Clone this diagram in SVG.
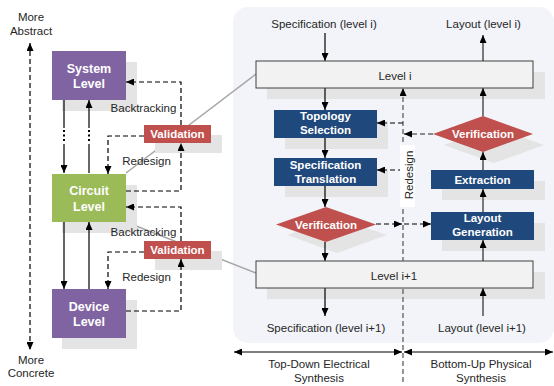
<svg xmlns="http://www.w3.org/2000/svg" width="554" height="386" viewBox="0 0 554 386">
<defs>
<marker id="ah" viewBox="0 0 8 7" refX="8" refY="3.5" markerWidth="8" markerHeight="7" markerUnits="userSpaceOnUse" orient="auto-start-reverse"><path d="M0,0 L8,3.5 L0,7 z" fill="#000"/></marker>
<style>
.t{font-family:"Liberation Sans",Arial,sans-serif;fill:#262626;font-size:11.5px;text-anchor:middle}
.w{font-family:"Liberation Sans",Arial,sans-serif;fill:#fff;font-weight:bold;text-anchor:middle}
.sh{fill:#e4e4e4}
.pu{fill:#8064A2}
.gr{fill:#9BBB59}
.rd{fill:#C0504D}
.nv{fill:#1F497D}
.lv{fill:#f2f2f2;stroke:#404040;stroke-width:1}
.s{fill:none;stroke:#000;stroke-width:1.2;marker-end:url(#ah)}
.g{fill:none;stroke:#5a5a5a;stroke-width:1.6;marker-end:url(#ah)}
.d{fill:none;stroke:#000;stroke-width:1.2;stroke-dasharray:5 3;marker-end:url(#ah)}
.dg{fill:none;stroke:#6a6a6a;stroke-width:1.4;stroke-dasharray:5 3;marker-end:url(#ah)}
.ln{stroke:#a6a6a6;stroke-width:1.5}
</style>
</defs>
<rect x="0" y="0" width="554" height="386" fill="#fff"/>
<rect x="233" y="7" width="321" height="336" rx="15" fill="#F2F4F9"/>

<g id="links-gray">
<line class="ln" x1="126" y1="173" x2="256" y2="74"/>
<line class="ln" x1="126" y1="222" x2="256" y2="273"/>
</g>

<g id="shadows">
<rect class="sh" x="62" y="62" width="75" height="49"/>
<rect class="sh" x="62" y="185" width="75" height="48"/>
<rect class="sh" x="62" y="300" width="75" height="49"/>
<rect class="sh" x="155" y="135" width="67" height="18"/>
<rect class="sh" x="155" y="251" width="67" height="19"/>
<rect class="sh" x="267" y="72" width="278" height="27"/>
<rect class="sh" x="267" y="272" width="278" height="27"/>
<rect class="sh" x="285" y="121" width="103" height="28"/>
<rect class="sh" x="285" y="169" width="103" height="28"/>
<rect class="sh" x="442" y="181" width="103" height="19"/>
<rect class="sh" x="442" y="223" width="103" height="28"/>
<polygon class="sh" points="337,218 387,235 337,253 287,235"/>
<polygon class="sh" points="494,127 544,145 494,163 444,145"/>
</g>

<g id="connectors">
<!-- abstraction axis -->
<line x1="30" y1="200" x2="30" y2="43" class="d"/>
<line x1="30" y1="200" x2="30" y2="350" class="d"/>
<!-- system <-> circuit -->
<line x1="64" y1="100" x2="64" y2="128" stroke="#000" stroke-width="1.2"/>
<line x1="64" y1="144" x2="64" y2="173" class="s"/>
<line x1="89" y1="173" x2="89" y2="144" stroke="#000" stroke-width="1.2"/>
<line x1="89" y1="128" x2="89" y2="100" class="s"/>
<g fill="#000">
<rect x="63" y="130" width="2" height="2"/><rect x="63" y="134.5" width="2" height="2"/><rect x="63" y="139" width="2" height="2"/>
<rect x="88" y="130" width="2" height="2"/><rect x="88" y="134.5" width="2" height="2"/><rect x="88" y="139" width="2" height="2"/>
</g>
<!-- circuit <-> device -->
<line x1="64" y1="222" x2="64" y2="289" class="s"/>
<line x1="89" y1="289" x2="89" y2="222" class="s"/>
<!-- validation loops -->
<path class="d" d="M126,191 H181 V143"/>
<path class="d" d="M181,125 V82 H126"/>
<path class="d" d="M144,136 H108 V174"/>
<path class="d" d="M126,311 H181 V259"/>
<path class="d" d="M181,241 V207 H126"/>
<path class="d" d="M144,252 H108 V289"/>

<!-- right panel: top-down -->
<line class="s" x1="325" y1="33" x2="325" y2="61"/>
<line class="s" x1="325" y1="88" x2="325" y2="110"/>
<line class="s" x1="325" y1="138" x2="325" y2="158"/>
<line class="s" x1="325" y1="186" x2="325" y2="207"/>
<line class="s" x1="325" y1="242" x2="325" y2="261"/>
<line class="s" x1="325" y1="288" x2="325" y2="316"/>
<!-- bottom-up -->
<line class="g" x1="483" y1="316" x2="483" y2="288"/>
<line class="g" x1="483" y1="261" x2="483" y2="240"/>
<line class="g" x1="483" y1="212" x2="483" y2="189"/>
<line class="g" x1="483" y1="170" x2="483" y2="152"/>
<line class="g" x1="483" y1="116" x2="483" y2="88"/>
<line class="g" x1="483" y1="61" x2="483" y2="35"/>
<!-- redesign divider -->
<line class="dg" x1="403" y1="382" x2="403" y2="88"/>
<path class="d" d="M403,123 H377"/>
<path class="d" d="M403,170 H377"/>
<path class="dg" d="M433,134 H404"/>
<path class="d" d="M376,224 H402"/>
<path class="d" d="M404,224 H431"/>
<!-- bottom axis -->
<line x1="234" y1="352" x2="402" y2="352" stroke="#000" stroke-width="1.2" marker-start="url(#ah)" marker-end="url(#ah)"/>
<line x1="404" y1="352" x2="553" y2="352" stroke="#000" stroke-width="1.2" marker-start="url(#ah)" marker-end="url(#ah)"/>
</g>

<g id="system-level">
<rect class="pu" x="52" y="51" width="74" height="49"/>
<text class="w" x="89" y="72.5" font-size="12.5">System</text>
<text class="w" x="89" y="87.5" font-size="12.5">Level</text>
</g>
<g id="circuit-level">
<rect class="gr" x="52" y="174" width="74" height="48"/>
<text class="w" x="89" y="194.5" font-size="12.5">Circuit</text>
<text class="w" x="89" y="210.5" font-size="12.5">Level</text>
</g>
<g id="device-level">
<rect class="pu" x="52" y="289" width="74" height="49"/>
<text class="w" x="89" y="310.5" font-size="12.5">Device</text>
<text class="w" x="89" y="325.5" font-size="12.5">Level</text>
</g>
<g id="validation-1">
<rect class="rd" x="144" y="125" width="67" height="18"/>
<text class="w" x="177.5" y="138" font-size="11.5">Validation</text>
</g>
<g id="validation-2">
<rect class="rd" x="144" y="241" width="67" height="18"/>
<text class="w" x="177.5" y="254" font-size="11.5">Validation</text>
</g>

<g id="labels-left">
<text class="t" x="31" y="21">More</text>
<text class="t" x="31" y="35">Abstract</text>
<text class="t" x="31" y="364">More</text>
<text class="t" x="31" y="377">Concrete</text>
<text class="t" x="143.5" y="112" font-size="11">Backtracking</text>
<text class="t" x="146.5" y="165" font-size="11">Redesign</text>
<text class="t" x="143.5" y="236" font-size="11">Backtracking</text>
<text class="t" x="146.5" y="281" font-size="11">Redesign</text>
</g>

<g id="level-i">
<rect class="lv" x="256" y="61" width="277" height="27"/>
<text class="t" x="395" y="79.5" font-size="13">Level i</text>
</g>
<g id="level-i1">
<rect class="lv" x="256" y="261" width="277" height="27"/>
<text class="t" x="394" y="279.5" font-size="13">Level i+1</text>
</g>
<g id="topology-selection">
<rect class="nv" x="274" y="110" width="103" height="28"/>
<text class="w" x="325.5" y="120" font-size="11.5">Topology</text>
<text class="w" x="325.5" y="133.5" font-size="11.5">Selection</text>
</g>
<g id="specification-translation">
<rect class="nv" x="274" y="158" width="103" height="28"/>
<text class="w" x="325.5" y="169" font-size="11.5">Specification</text>
<text class="w" x="325.5" y="182.5" font-size="11.5">Translation</text>
</g>
<g id="verification-left">
<polygon class="rd" points="326,207 376,224.5 326,242 276,224.5"/>
<text class="w" x="326" y="228.5" font-size="11.5">Verification</text>
</g>
<g id="verification-right">
<polygon class="rd" points="483,116 533,134 483,152 433,134"/>
<text class="w" x="483" y="138" font-size="11.5">Verification</text>
</g>
<g id="extraction">
<rect class="nv" x="431" y="170" width="103" height="19"/>
<text class="w" x="482.5" y="183.5" font-size="11.5">Extraction</text>
</g>
<g id="layout-generation">
<rect class="nv" x="431" y="212" width="103" height="28"/>
<text class="w" x="482.5" y="222" font-size="11.5">Layout</text>
<text class="w" x="482.5" y="236" font-size="11.5">Generation</text>
</g>
<g id="redesign-label">
<rect x="400" y="145" width="15" height="62" fill="#fff"/>
<text class="t" transform="translate(412.5,175) rotate(-90)">Redesign</text>
</g>
<g id="labels-right">
<text class="t" x="324" y="28">Specification (level i)</text>
<text class="t" x="483.5" y="28">Layout (level i)</text>
<text class="t" x="326" y="332">Specification (level i+1)</text>
<text class="t" x="482" y="332">Layout (level i+1)</text>
<text class="t" x="319" y="368" font-size="11.8">Top-Down Electrical</text>
<text class="t" x="319" y="382" font-size="11.8">Synthesis</text>
<text class="t" x="481" y="368" font-size="11.8">Bottom-Up Physical</text>
<text class="t" x="481" y="382" font-size="11.8">Synthesis</text>
</g>
</svg>
